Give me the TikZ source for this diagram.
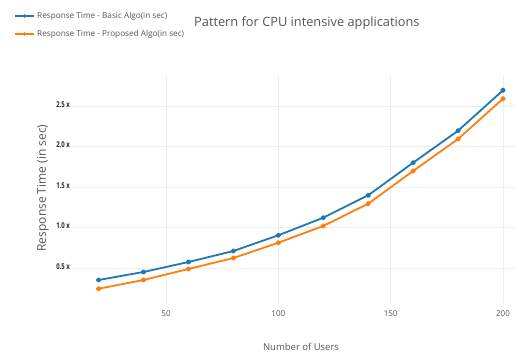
\documentclass[tikz,border=0pt]{standalone}
\usepackage{fontspec}
\setmainfont{Open Sans}
\usetikzlibrary{calc}
\definecolor{cblue}{HTML}{1F77B4}
\definecolor{corange}{HTML}{FF7F0E}
\definecolor{cgrid}{HTML}{EEEEEE}
\definecolor{ctext}{HTML}{555555}
\tikzset{
  gridline/.style={draw=cgrid, line width=0.8pt},
  series/.style={line width=1.8pt, line join=round},
  ticklab/.style={font=\fontsize{8}{9}\selectfont, text=ctext, inner sep=0pt},
  ytick/.style={font=\fontsize{8}{9}\selectfont\bfseries, text=black!85, inner sep=0pt, anchor=east},
  legtext/.style={font=\fontsize{8.2}{10}\selectfont, text=ctext, inner sep=0pt, anchor=west},
}
\begin{document}
\begin{tikzpicture}[x=1pt,y=1pt]
\useasboundingbox (0,0) rectangle (521,356);
\begin{scope}[shift={(53.67pt,47.5pt)}, x=2.2467pt, y=81pt]
  % grid
  \foreach \v in {0.5,1.0,1.5,2.0,2.5}
    \draw[gridline] (8.16,\v) -- (205.3,\v);
  \foreach \u in {50,100,150,200}
    \draw[gridline] (\u,0.068) -- (\u,2.883);
  % y tick labels
  \foreach \v in {0.5,1.0,1.5,2.0,2.5}
    \node[ytick] (yt\v) at (7.3,\v+0.02) {\scalebox{0.75}[1]{\v\ x}};
  % x tick labels
  \foreach \u in {50,100,150,200}
    \node[ticklab] (xt\u) at (\u,-0.06) {\u};
  % series
  \draw[series, cblue] plot[mark=*, mark size=1.8pt, mark options={fill=cblue}] coordinates {
    (20,0.352) (40,0.451) (60,0.574) (80,0.710) (100,0.904)
    (120,1.121) (140,1.398) (160,1.800) (180,2.195) (200,2.694)};
  \draw[series, corange] plot[mark=*, mark size=1.8pt, mark options={fill=corange}] coordinates {
    (20,0.244) (40,0.352) (60,0.488) (80,0.623) (100,0.812)
    (120,1.019) (140,1.294) (160,1.698) (180,2.093) (200,2.590)};
\end{scope}
% axis titles
\node[font=\fontsize{12}{13}\selectfont, text=ctext, rotate=90] (ylab) at (43,168) {Response Time (in sec)};
\node[font=\fontsize{9.5}{11}\selectfont, text=ctext] (xlab) at (301,9) {Number of Users};
% title
\node[font=\fontsize{12.8}{14}\selectfont, text=ctext, anchor=west, inner sep=0pt] (title) at (194,333) {Pattern for CPU intensive applications};
% legend
\coordinate (la1) at (15,340);
\coordinate (lb1) at (34,340);
\coordinate (la2) at (15,322);
\coordinate (lb2) at (34,322);
\draw[cblue, line width=1.8pt] (la1) -- (lb1);
\fill[cblue] ($(la1)!0.5!(lb1)$) circle (1.8pt);
\draw[corange, line width=1.8pt] (la2) -- (lb2);
\fill[corange] ($(la2)!0.5!(lb2)$) circle (1.8pt);
\node[legtext] (leg1) at (37,340) {Response Time - Basic Algo(in sec)};
\node[legtext] (leg2) at (37,322) {Response Time - Proposed Algo(in sec)};
\end{tikzpicture}
\end{document}
